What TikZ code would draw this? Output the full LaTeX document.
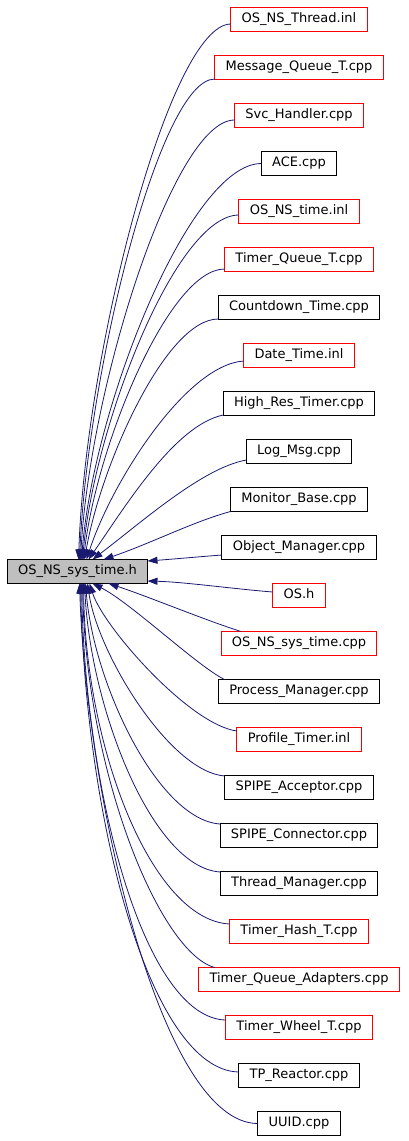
\documentclass[tikz,border=0pt]{standalone}
\usepackage{fontspec}
\usepackage{tikz}
\usepackage{xcolor}
\usetikzlibrary{positioning, arrows.meta}
\newfontfamily\graphfont{DejaVu Sans}
\definecolor{edge_blue}{HTML}{191970}
\definecolor{link_red}{HTML}{FF0000}
\definecolor{current_fill}{HTML}{BFBFBF}

\begin{document}
\begin{tikzpicture}[
    % --- Global Settings ---
    % One unit is one pixel of the graph, y runs downwards
    x=1pt, y=-1pt,
    % Vertical gap between the file boxes
    node distance = 24pt,
    % Font for all nodes in the picture
    every node/.style={font=\graphfont\fontsize{13}{15}\selectfont}
  ]

  % --- Style Definitions ---
  \tikzset{
    % Style for every file box
    block/.style={
      draw=black,
      line width=1pt,
      outer sep=0pt,
      minimum height=24pt,
      inner xsep=10.8pt,
      inner ysep=0pt,
      text height=9.5pt,
      text depth=3.5pt
    },
    % Files that are documented (red frame)
    linked/.style={draw=link_red},
    % The file the graph is about (grey fill)
    current/.style={fill=current_fill, inner xsep=10.5pt},
    % Style for the include arrows
    arrow/.style={
      -{Triangle[length=10pt, width=7pt]},
      draw=edge_blue,
      line width=0.8pt
    }
  }

  % Keep the page at the size of the graph
  \useasboundingbox (0,0) rectangle (408,1141);

  % --- Node Placement ---
  % The header itself
  \node[block, current] (systime) at (77.5, 571.5) {OS\_NS\_sys\_time.h};

  % Files that include it, from the top downwards
  \node[block, linked] (thread) at (299, 19.5) {OS\_NS\_Thread.inl};
  \node[block, linked] (msgqueue) [below=of thread] {Message\_Queue\_T.cpp};
  \node[block, linked] (svchandler) [below=of msgqueue] {Svc\_Handler.cpp};
  \node[block] (ace) [below=of svchandler] {ACE.cpp};
  \node[block, linked] (nstime) [below=of ace] {OS\_NS\_time.inl};
  \node[block, linked] (timerqueue) [below=of nstime] {Timer\_Queue\_T.cpp};
  \node[block] (countdown) [below=of timerqueue] {Countdown\_Time.cpp};
  \node[block, linked] (datetime) [below=of countdown] {Date\_Time.inl};
  \node[block] (hrtimer) [below=of datetime] {High\_Res\_Timer.cpp};
  \node[block] (logmsg) [below=of hrtimer] {Log\_Msg.cpp};
  \node[block] (monitor) [below=of logmsg] {Monitor\_Base.cpp};
  \node[block] (objmgr) [below=of monitor] {Object\_Manager.cpp};
  \node[block, linked] (osh) [below=of objmgr] {OS.h};
  \node[block, linked] (systimecpp) [below=of osh] {OS\_NS\_sys\_time.cpp};
  \node[block] (procmgr) [below=of systimecpp] {Process\_Manager.cpp};
  \node[block, linked] (proftimer) [below=of procmgr] {Profile\_Timer.inl};
  \node[block] (spipeacc) [below=of proftimer] {SPIPE\_Acceptor.cpp};
  \node[block] (spipecon) [below=of spipeacc] {SPIPE\_Connector.cpp};
  \node[block] (thrmgr) [below=of spipecon] {Thread\_Manager.cpp};
  \node[block, linked] (timerhash) [below=of thrmgr] {Timer\_Hash\_T.cpp};
  \node[block, linked] (tqadapters) [below=of timerhash] {Timer\_Queue\_Adapters.cpp};
  \node[block, linked] (timerwheel) [below=of tqadapters] {Timer\_Wheel\_T.cpp};
  \node[block] (tpreactor) [below=of timerwheel] {TP\_Reactor.cpp};
  \node[block] (uuid) [below=of tpreactor] {UUID.cpp};

  % --- Path and Arrow Drawing ---
  % Upper files come in through the top of the header
  \draw[arrow] ([yshift=-4.5pt]thread.west) .. controls +(-61,0) and +(7,-208) .. ([xshift=71pt]systime.north west);
  \draw[arrow] ([yshift=-11.5pt]msgqueue.west) .. controls +(-55,0) and +(8,-187) .. ([xshift=72pt]systime.north west);
  \draw[arrow] ([yshift=-4.5pt]svchandler.west) .. controls +(-61,0) and +(9,-171) .. ([xshift=73pt]systime.north west);
  \draw[arrow] (ace.west) .. controls +(-71,0) and +(12,-154) .. ([xshift=74pt]systime.north west);
  \draw[arrow] ([yshift=-3.5pt]nstime.west) .. controls +(-63,0) and +(12,-134) .. ([xshift=75pt]systime.north west);
  \draw[arrow] ([yshift=-9.5pt]timerqueue.west) .. controls +(-56,0) and +(13,-113) .. ([xshift=76pt]systime.north west);
  \draw[arrow] ([yshift=-11.5pt]countdown.west) .. controls +(-53,0) and +(16,-93) .. ([xshift=77pt]systime.north west);
  \draw[arrow] ([yshift=-5.5pt]datetime.west) .. controls +(-58,4) and +(25,-77) .. ([xshift=79pt]systime.north west);
  \draw[arrow] ([yshift=-11.5pt]hrtimer.west) .. controls +(-48,10) and +(38,-55) .. ([xshift=81pt]systime.north west);
  \draw[arrow] ([yshift=-8.5pt]logmsg.west) .. controls +(-44,8) and +(50,-38) .. ([xshift=85pt]systime.north west);
  \draw[arrow] (monitor.south west) .. controls +(-37,10) and +(47,-16) .. ([xshift=96pt]systime.north west);

  % Two files come in from the right side
  \draw[arrow] ([yshift=-7.5pt]objmgr.west) .. controls +(-26,2) and +(27,-2) .. ([yshift=10.5pt]systime.east);
  \draw[arrow] ([yshift=3.5pt]osh.west) .. controls +(-38,-3) and +(37,1) .. ([yshift=-9.5pt]systime.east);

  % Lower files come in through the bottom of the header
  \draw[arrow] ([xshift=20pt]systimecpp.north west) .. controls +(-35,-11) and +(37,12) .. ([xshift=101pt]systime.south west);
  \draw[arrow] ([xshift=6pt]procmgr.north west) .. controls +(-28,-14) and +(38,19) .. ([xshift=85pt]systime.south west);
  \draw[arrow] ([yshift=8.5pt]proftimer.west) .. controls +(-47,-6) and +(14,44) .. ([xshift=82pt]systime.south west);
  \draw[arrow] ([yshift=11.5pt]spipeacc.west) .. controls +(-55,-4) and +(10,70) .. ([xshift=80pt]systime.south west);
  \draw[arrow] ([yshift=11.5pt]spipecon.west) .. controls +(-62,-4) and +(8,100) .. ([xshift=78pt]systime.south west);
  \draw[arrow] ([yshift=11.5pt]thrmgr.west) .. controls +(-68,-4) and +(6,125) .. ([xshift=77pt]systime.south west);
  \draw[arrow] ([yshift=7.5pt]timerhash.west) .. controls +(-78,-4) and +(2,165) .. ([xshift=76pt]systime.south west);
  \draw[arrow] ([xshift=16pt]tqadapters.north west) .. controls +(-55,-15) and +(4,190) .. ([xshift=75pt]systime.south west);
  \draw[arrow] ([yshift=7.5pt]timerwheel.west) .. controls +(-80,-2) and +(4,215) .. ([xshift=74pt]systime.south west);
  \draw[arrow] ([yshift=3.5pt]tpreactor.west) .. controls +(-88,-2) and +(5,240) .. ([xshift=73pt]systime.south west);
  \draw[arrow] (uuid.west) .. controls +(-97,0) and +(7,214) .. ([xshift=72pt]systime.south west);

\end{tikzpicture}
\end{document}
